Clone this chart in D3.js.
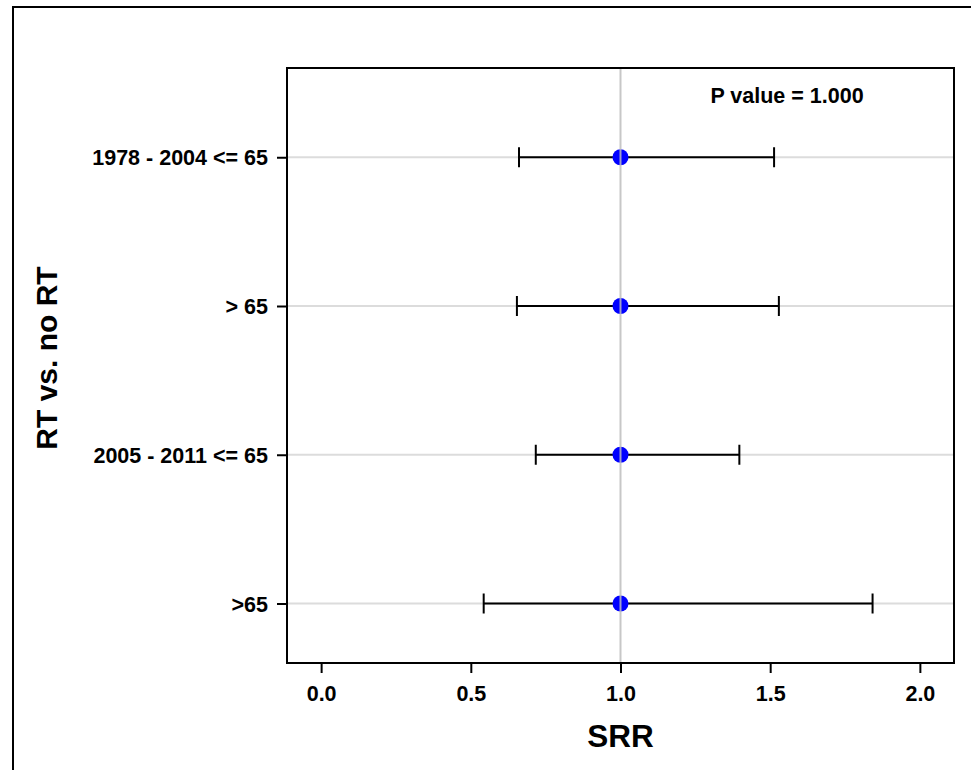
<!DOCTYPE html>
<html lang="en">
<head>
    <meta charset="UTF-8">
    <title>SRR forest plot</title>
    <style>
        body {
            margin: 0;
            background-color: #ffffff;
        }
        svg {
            display: block;
            font-family: "Liberation Sans", Arial, sans-serif;
            font-weight: bold;
        }
    </style>
    <script src="https://d3js.org/d3.v7.min.js"></script>
</head>
<body>
    <svg width="971" height="770"></svg>
    <script>
        const groups = ["1978 - 2004 <= 65", "> 65", "2005 - 2011 <= 65", ">65"];
        const srr = [1.0, 1.0, 1.0, 1.0];
        const lower = [0.661, 0.654, 0.717, 0.543];
        const upper = [1.513, 1.529, 1.397, 1.842];
        const xTicks = [0, 0.5, 1, 1.5, 2];
        const pText = "P value = 1.000";

        const svg = d3.select("svg");

        // plot box
        const plotLeft = 287, plotRight = 954, plotTop = 68, plotBottom = 663;

        const x = d3.scaleLinear().domain([-0.114, 2.114]).range([plotLeft, plotRight]);
        const y = d3.scaleLinear().domain([-0.6, 3.4]).range([plotTop, plotBottom]);

        // outer frame (runs off the right / bottom edge)
        svg.append("rect")
            .attr("x", 13).attr("y", 7)
            .attr("width", 1000).attr("height", 800)
            .attr("fill", "none")
            .attr("stroke", "#000")
            .attr("stroke-width", 2);

        // horizontal grid at each group
        svg.append("g")
            .selectAll("line")
            .data(groups)
            .join("line")
            .attr("x1", plotLeft).attr("x2", plotRight)
            .attr("y1", (d, i) => y(i)).attr("y2", (d, i) => y(i))
            .attr("stroke", "#dcdcdc")
            .attr("stroke-width", 2);

        // error bars
        const bars = svg.append("g").attr("stroke", "#000").attr("stroke-width", 2);
        groups.forEach((g, i) => {
            bars.append("line")
                .attr("x1", x(lower[i])).attr("x2", x(upper[i]))
                .attr("y1", y(i)).attr("y2", y(i));
            [lower[i], upper[i]].forEach(v => {
                bars.append("line")
                    .attr("x1", x(v)).attr("x2", x(v))
                    .attr("y1", y(i) - 10).attr("y2", y(i) + 10);
            });
        });

        // point estimates
        svg.append("g")
            .selectAll("circle")
            .data(srr)
            .join("circle")
            .attr("cx", d => x(d))
            .attr("cy", (d, i) => y(i))
            .attr("r", 8)
            .attr("fill", "#0000ff");

        // reference line at 1 (drawn over the dots)
        svg.append("line")
            .attr("x1", x(1)).attr("x2", x(1))
            .attr("y1", plotTop).attr("y2", plotBottom)
            .attr("stroke", "#bdbdbd")
            .attr("stroke-opacity", 0.85)
            .attr("stroke-width", 2);

        // axes
        const xAxis = svg.append("g")
            .attr("transform", `translate(0,${plotBottom})`)
            .call(d3.axisBottom(x).tickValues(xTicks).tickFormat(d3.format(".1f")).tickSize(10).tickPadding(13));

        const yAxis = svg.append("g")
            .attr("transform", `translate(${plotLeft},0)`)
            .call(d3.axisLeft(y).tickValues(d3.range(groups.length)).tickFormat(i => groups[i]).tickSize(10).tickPadding(9));

        [xAxis, yAxis].forEach(a => {
            a.select(".domain").remove();
            a.selectAll(".tick line").attr("stroke", "#000").attr("stroke-width", 2);
            a.selectAll("text")
                .attr("fill", "#000")
                .style("font-family", "'Liberation Sans', Arial, sans-serif")
                .style("font-weight", "bold")
                .style("font-size", "21.5px");
        });
        yAxis.selectAll("text").attr("dy", "0.35em");

        // plot frame
        svg.append("rect")
            .attr("x", plotLeft).attr("y", plotTop)
            .attr("width", plotRight - plotLeft).attr("height", plotBottom - plotTop)
            .attr("fill", "none")
            .attr("stroke", "#000")
            .attr("stroke-width", 2);

        // p value
        svg.append("text")
            .attr("x", 787).attr("y", 103)
            .attr("text-anchor", "middle")
            .style("font-size", "21.5px")
            .text(pText);

        // axis titles
        svg.append("text")
            .attr("x", (plotLeft + plotRight) / 2).attr("y", 747)
            .attr("text-anchor", "middle")
            .style("font-size", "31.5px")
            .text("SRR");

        svg.append("text")
            .attr("transform", "translate(57,358) rotate(-90)")
            .attr("text-anchor", "middle")
            .style("font-size", "30px")
            .text("RT vs. no RT");
    </script>
</body>
</html>
